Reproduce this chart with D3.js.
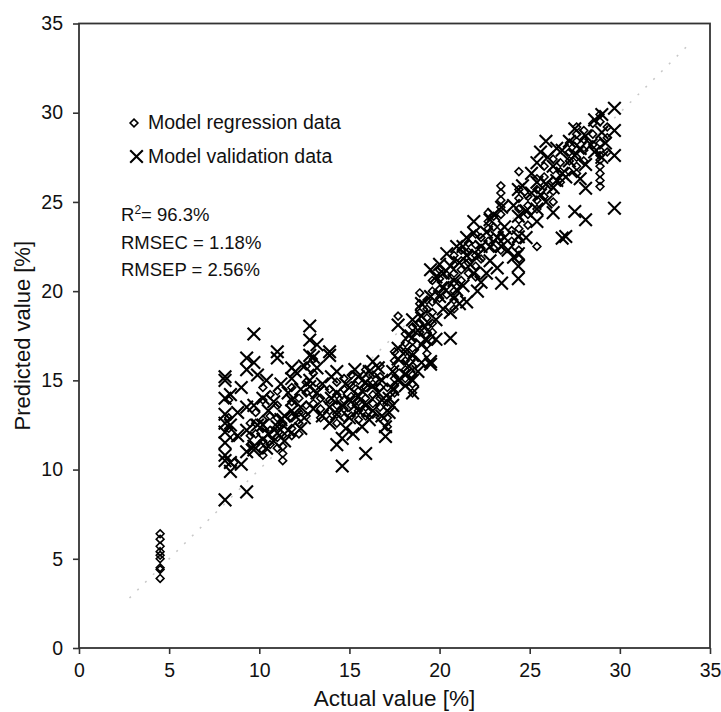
<!DOCTYPE html>
<html><head><meta charset="utf-8">
<script src="https://cdn.jsdelivr.net/npm/d3@7"></script>
<style>body{margin:0;background:#fff}svg{display:block}text{font-family:"Liberation Sans",Arial,sans-serif;fill:#111}</style>
</head><body>
<svg id="c" width="721" height="712"></svg>
<script>
// ---------- data ----------
const xTicks = [0,5,10,15,20,25,30,35];
const yTicks = [0,5,10,15,20,25,30,35];
const legendLabels = ["Model regression data","Model validation data"];
const statLines = ["RMSEC = 1.18%","RMSEP = 2.56%"];
const r2Text = ["R","2","= 96.3%"];
const xTitle = "Actual value [%]";
const yTitle = "Predicted value [%]";
// columns: [actual, [predicted...]]
const regressionCols = [
 [4.5,[6.4,6.1,5.7,5.4,5.2,5.0,4.5,4.4,3.9]],
 [8.3,[13.9,12.9,12.3]],
 [8.6,[11.8,10.4]],
 [9.5,[12.6,11.9,11.4]],
 [9.8,[13.2,12.6,12.0]],
 [10.2,[14.6,13.9,12.8,12.3,11.6,11.1,10.8]],
 [10.6,[14.2,13.0,12.2,11.4]],
 [11.0,[14.4,13.6,12.9,12.4,11.8,11.2]],
 [11.3,[12.6,11.9,11.3,10.9,10.5]],
 [11.8,[14.6,13.8,12.9,12.3,11.9]],
 [12.2,[14.0,13.2,12.6,12.0]],
 [12.6,[15.8,14.9,14.3,13.6,13.0]],
 [13.0,[16.2,15.4,14.2,13.7]],
 [13.4,[14.7,14.0,13.4,12.9]],
 [13.9,[14.5,13.9,13.3,12.8]],
 [14.3,[14.9,14.2,13.6,13.1,12.6]],
 [14.7,[15.1,14.5,13.9,13.4,12.9]],
 [15.1,[15.3,14.7,14.1,13.6,13.0]],
 [15.5,[15.0,14.4,13.8,13.3,12.8]],
 [15.9,[15.6,15.1,14.6,14.0,13.5,13.0]],
 [16.3,[15.3,14.8,14.2,13.7,13.1]],
 [16.7,[15.8,15.2,14.6,14.0,13.5,12.9]],
 [17.1,[14.6,14.0,13.5,12.9,12.4]],
 [17.5,[16.6,16.1,15.6,15.1,14.7,14.3]],
 [17.7,[18.6]],
 [18.1,[17.6,17.1,16.6,16.1,15.6,15.1]],
 [18.5,[18.0,17.6,17.2,16.8,16.3,15.8,15.3,14.8,14.3]],
 [18.9,[19.9,19.3,18.8,18.2,17.7]],
 [19.3,[19.5,19.0,18.5,18.0,17.5,17.0,16.5]],
 [19.6,[20.6,20.0,19.4,18.8,18.2,17.7,17.2]],
 [20.0,[21.2,20.7,20.1,19.6]],
 [20.4,[20.9,20.3,19.8]],
 [20.8,[22.0,21.5,21.0,20.5,20.0,19.5,19.0]],
 [21.2,[22.3,21.7,21.2,20.6]],
 [21.6,[22.7,22.2,21.6,21.0]],
 [22.0,[23.2,22.6,22.0,21.4,20.8]],
 [22.3,[23.0,22.4,21.8]],
 [22.7,[24.4,23.9,23.5,22.8]],
 [23.0,[24.2,23.6,23.0,22.4]],
 [23.4,[25.9,25.5,25.1,24.7,24.3,23.6,23.1,22.3]],
 [24.0,[23.4,22.8]],
 [24.4,[26.7,25.7,25.2,24.6,24.0,23.5,22.9,22.3,21.8]],
 [24.9,[25.3,24.8,24.3,23.7]],
 [25.4,[26.3,25.7,25.1,24.6,22.5]],
 [25.8,[27.0,26.4,25.9,25.3]],
 [26.3,[27.4,26.8,26.2,25.6,25.0]],
 [26.7,[27.2,26.7,26.1]],
 [27.2,[28.3,27.8,27.3,26.7]],
 [27.6,[29.2,28.8,28.4,27.9,27.5,27.0,26.6]],
 [28.0,[29.0,28.5,27.9,27.3]],
 [28.5,[29.4,28.8,28.2]],
 [28.9,[29.9,29.5,28.3,27.9,27.6,27.35,27.0,26.6,26.2,25.86]],
 [29.3,[29.2,28.6,27.8]]
];
const validationCols = [
 [8.1,[15.2,15.0,14.0,13.1,12.6,12.1,11.5,10.8,10.5,8.3]],
 [8.4,[14.2,12.5,10.4,9.9]],
 [8.8,[13.2,11.9]],
 [9.0,[14.6,10.3]],
 [9.3,[16.25,15.6,13.5,12.2,11.0,8.75]],
 [9.7,[17.6,16.0,13.6,11.3,11.1]],
 [9.9,[15.3,12.5]],
 [10.2,[14.0,12.5,11.7]],
 [10.4,[15.0,11.2]],
 [10.5,[13.3,12.0]],
 [10.8,[13.8,11.6]],
 [11.0,[16.6,16.25,12.4,12.05]],
 [11.2,[14.8,12.8]],
 [11.4,[13.0,11.6]],
 [11.6,[14.3,12.2]],
 [11.8,[15.7,15.1,13.9,13.3]],
 [12.0,[15.5,13.0]],
 [12.3,[14.5,13.5,12.3]],
 [12.5,[15.8,12.9]],
 [12.8,[18.05,17.26,16.4,15.0,14.65]],
 [13.0,[16.3,13.4]],
 [13.2,[17.0,15.7,14.3]],
 [13.5,[14.8,13.0]],
 [13.9,[16.6,16.4,13.5,12.6]],
 [14.0,[15.2,14.0]],
 [14.3,[15.5,14.3,13.1,11.4]],
 [14.6,[13.6,11.75,10.2]],
 [14.8,[14.8,12.3]],
 [15.0,[14.6,13.9,12.9]],
 [15.2,[12.0]],
 [15.3,[15.6,13.6]],
 [15.5,[15.2,14.1,13.3]],
 [15.7,[14.4,12.4]],
 [15.9,[14.9,13.6,10.9]],
 [16.1,[15.5,12.8]],
 [16.3,[16.05,14.7,13.3]],
 [16.6,[15.7,14.3]],
 [16.8,[15.0,13.9,13.0]],
 [17.0,[12.4,11.85]],
 [17.2,[14.0,13.2]],
 [17.4,[15.5,14.5,13.6]],
 [17.7,[18.1,16.8,16.2,15.0]],
 [18.1,[16.6,15.3,14.7]],
 [18.3,[17.5,15.8]],
 [18.5,[18.4,16.4,15.0,14.3]],
 [18.8,[17.8,15.5]],
 [19.0,[19.3,18.6,17.0,16.0]],
 [19.2,[18.0,17.3]],
 [19.5,[21.2,19.7,16.05,15.9]],
 [19.8,[20.8,18.4,17.3]],
 [20.0,[21.5,19.7]],
 [20.2,[21.0,20.2,19.0]],
 [20.4,[22.1]],
 [20.6,[21.4,18.8,17.36]],
 [20.8,[20.6,19.6]],
 [20.95,[22.5,20.07]],
 [21.1,[21.6,19.3]],
 [21.3,[22.5,20.3]],
 [21.5,[23.0,22.0,19.4]],
 [21.7,[21.5]],
 [21.9,[23.9,23.25,21.0]],
 [22.1,[22.0,20.0]],
 [22.3,[22.5,20.5]],
 [22.6,[23.3,21.0]],
 [22.8,[24.0,22.5,21.7]],
 [23.0,[24.3]],
 [23.2,[23.0,21.3]],
 [23.44,[24.7,22.5,20.45]],
 [23.6,[23.6,23.0]],
 [23.8,[22.3]],
 [24.1,[24.8,21.9]],
 [24.37,[25.7,24.2,23.05,22.1,21.4,20.7]],
 [24.6,[25.9]],
 [24.8,[24.5,23.0]],
 [25.1,[26.6,25.5]],
 [25.4,[27.2,26.1,24.6,23.9]],
 [25.6,[27.8,25.4]],
 [25.9,[28.4,26.0,25.0]],
 [26.0,[27.5]],
 [26.3,[27.0,25.8,24.4]],
 [26.5,[28.0,26.2]],
 [26.8,[27.9,26.6,22.97]],
 [27.0,[26.4,23.06]],
 [27.2,[28.4,27.3]],
 [27.5,[29.1,27.6,24.46]],
 [27.8,[28.0,26.3]],
 [28.1,[28.7,27.1,25.77,24.0]],
 [28.4,[28.2]],
 [28.6,[29.6,27.8]],
 [29.0,[29.9,28.9,27.5]],
 [29.2,[28.3]],
 [29.7,[30.25,29.0,27.6,24.65]]
];
const diagonalRange = [2.8, 34];

// ---------- drawing ----------
const svg = d3.select("#c");
const x = d3.scaleLinear().domain([0,35]).range([79,710]);
const y = d3.scaleLinear().domain([0,35]).range([648,23.5]);
const flat = cols => cols.flatMap(([a,vals]) => vals.map(v => ({a, p:v})));
const reg = flat(regressionCols), val = flat(validationCols);

// diagonal
svg.append("line")
  .attr("x1", x(diagonalRange[0])).attr("y1", y(diagonalRange[0]))
  .attr("x2", x(diagonalRange[1])).attr("y2", y(diagonalRange[1]))
  .attr("stroke","#c8c8c8").attr("stroke-width",1.5).attr("stroke-dasharray","2,9");

const diamond = "M0,-3.9L3.9,0L0,3.9L-3.9,0Z";
const cross = "M-6.3,-6.3L6.3,6.3M-6.3,6.3L6.3,-6.3";

svg.append("g").selectAll("path").data(reg).join("path")
  .attr("d", diamond).attr("transform", d => `translate(${x(d.a)},${y(d.p)})`)
  .attr("fill","none").attr("stroke","#000").attr("stroke-width",1.6);
svg.append("g").selectAll("path").data(val).join("path")
  .attr("d", cross).attr("transform", d => `translate(${x(d.a)},${y(d.p)})`)
  .attr("fill","none").attr("stroke","#000").attr("stroke-width",2.1);

// axes
const ax = svg.append("g").attr("transform","translate(0,648)")
  .call(d3.axisBottom(x).tickValues(xTicks).tickSize(6).tickPadding(9).tickFormat(d3.format("d")));
const ay = svg.append("g").attr("transform","translate(79,0)")
  .call(d3.axisLeft(y).tickValues(yTicks).tickSize(6).tickPadding(10).tickFormat(d3.format("d")));
[ax,ay].forEach(g => {
  g.select(".domain").remove();
  g.selectAll(".tick line").attr("stroke","#333").attr("stroke-width",1.6);
  g.selectAll(".tick text").style("font-size","19.5px").attr("fill","#111")
   .style("font-family","'Liberation Sans',Arial,sans-serif");
});
// frame
svg.append("rect").attr("x",79).attr("y",23.5).attr("width",710-79).attr("height",648-23.5)
  .attr("fill","none").attr("stroke","#333").attr("stroke-width",1.8);

// titles
svg.append("text").attr("x",(x(0)+x(35))/2).attr("y",706).attr("text-anchor","middle")
  .style("font-size","22.5px").text(xTitle);
svg.append("text").attr("transform",`translate(30,${(y(0)+y(35))/2}) rotate(-90)`)
  .attr("text-anchor","middle").style("font-size","22px").text(yTitle);

// legend
const lg = svg.append("g");
lg.append("path").attr("d",diamond).attr("transform","translate(134,123)")
  .attr("fill","none").attr("stroke","#000").attr("stroke-width",1.6);
lg.append("path").attr("d",cross).attr("transform","translate(136.5,156.5)")
  .attr("fill","none").attr("stroke","#000").attr("stroke-width",2.1);
lg.append("text").attr("x",148).attr("y",129).style("font-size","19.5px").text(legendLabels[0]);
lg.append("text").attr("x",148).attr("y",163).style("font-size","19.5px").text(legendLabels[1]);

// stats
const r2 = svg.append("text").attr("x",121).attr("y",221).style("font-size","18.5px");
r2.append("tspan").text(r2Text[0]);
r2.append("tspan").attr("dy",-7).style("font-size","12px").text(r2Text[1]);
r2.append("tspan").attr("dy",7).text(r2Text[2]);
statLines.forEach((t,i) => svg.append("text").attr("x",121).attr("y",249+i*27).style("font-size","18.5px").text(t));
</script>
</body></html>
